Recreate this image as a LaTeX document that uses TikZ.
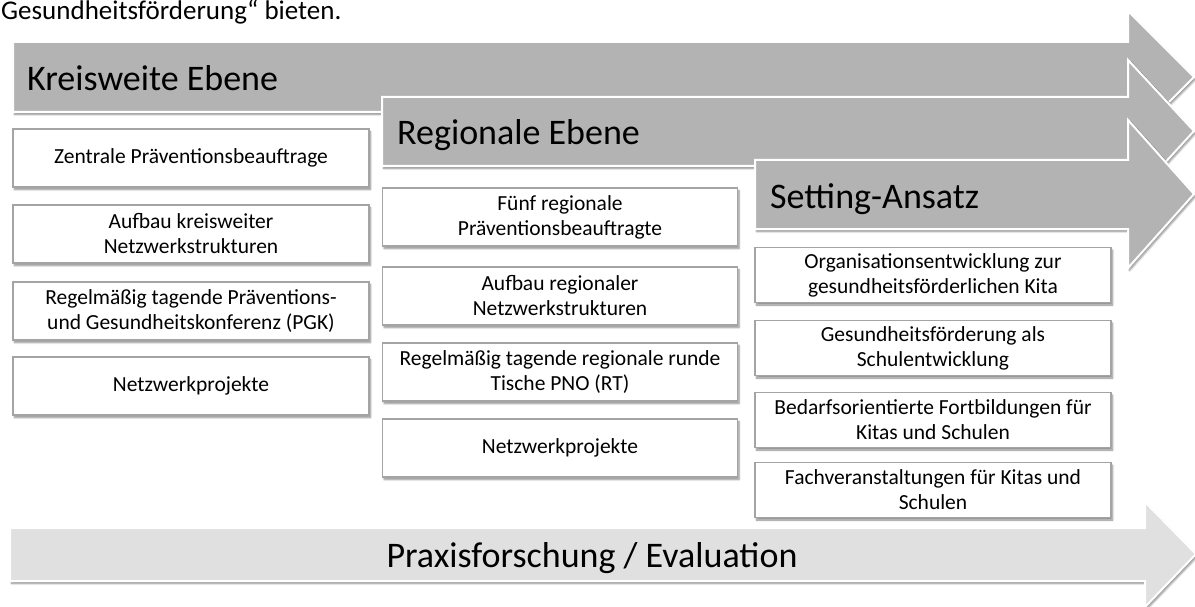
\documentclass[tikz,border=0pt]{standalone}
\usepackage{fontspec}
\setmainfont{Carlito}
\usetikzlibrary{shadows.blur}
\definecolor{bandgray}{HTML}{B3B3B3}
\definecolor{basegray}{HTML}{E0E0E0}
\definecolor{boxline}{HTML}{A4A4A4}
\begin{document}
\begin{tikzpicture}[x=1pt,y=-1pt,
  softshadow/.style={blur shadow={shadow xshift=1.5pt,shadow yshift=-2.5pt,shadow blur steps=5,shadow opacity=45}},
  band/.style={fill=bandgray,draw=white,line width=2pt,line join=miter,softshadow},
  baseband/.style={band,fill=basegray},
  item/.style={draw=boxline,fill=white,line width=1.5pt,align=center,inner sep=0pt,
    font=\fontsize{21.5}{25}\selectfont,softshadow},
  col1/.style={item,minimum width=356pt,minimum height=58pt},
  col2/.style={item,minimum width=355pt,minimum height=58pt},
  col3/.style={item,minimum width=356pt,minimum height=55pt},
  title/.style={anchor=base west,inner sep=0pt,font=\fontsize{36}{40}\selectfont}]
\useasboundingbox (0,0) rectangle (1195,607);
\clip (0,0) rectangle (1195,607);

% line of running text above the figure
\node[anchor=base west,inner sep=0pt,font=\fontsize{27}{32}\selectfont] (lead) at (1,20) {Gesundheitsförderung“ bieten.};

% level bands
\draw[band] (13,42) -- (1128,42) -- (1128,11) -- (1194,77) -- (1128,143) -- (1128,112) -- (13,112) -- cycle;
\node[title] (kreis) at (27,91) {Kreisweite Ebene};

\draw[band] (382,97) -- (1128,97) -- (1128,60) -- (1194,131) -- (1128,203) -- (1128,166) -- (382,166) -- cycle;
\node[title] (region) at (397,145) {Regionale Ebene};

\draw[band] (755,160) -- (1128,160) -- (1128,120) -- (1194,194) -- (1128,268) -- (1128,229) -- (755,229) -- cycle;
\node[title] (setting) at (770,208) {Setting-Ansatz};

% district level
\node[col1] (k1) at (191,158) {Zentrale Präventionsbeauftrage};
\node[col1] (k2) at (191,234) {Aufbau kreisweiter\\Netzwerkstrukturen};
\node[col1] (k3) at (191,311) {Regelmäßig tagende Präventions-\\und Gesundheitskonferenz (PGK)};
\node[col1] (k4) at (191,386) {Netzwerkprojekte};

% regional level
\node[col2] (r1) at (560,217) {Fünf regionale\\Präventionsbeauftragte};
\node[col2] (r2) at (560,296) {Aufbau regionaler\\Netzwerkstrukturen};
\node[col2] (r3) at (560,372) {Regelmäßig tagende regionale runde\\Tische PNO (RT)};
\node[col2] (r4) at (560,448) {Netzwerkprojekte};

% setting approach
\node[col3] (s1) at (933,275) {Organisationsentwicklung zur\\gesundheitsförderlichen Kita};
\node[col3] (s2) at (933,348) {Gesundheitsförderung als\\Schulentwicklung};
\node[col3] (s3) at (933,420) {Bedarfsorientierte Fortbildungen für\\Kitas und Schulen};
\node[col3] (s4) at (933,490) {Fachveranstaltungen für Kitas und\\Schulen};

% research band along the bottom
\draw[baseband] (10,528) -- (1145,528) -- (1145,502) -- (1196,554) -- (1145,607) -- (1145,581) -- (10,581) -- cycle;
\node[title,anchor=base] (praxis) at (592,567) {Praxisforschung / Evaluation};
\end{tikzpicture}
\end{document}
